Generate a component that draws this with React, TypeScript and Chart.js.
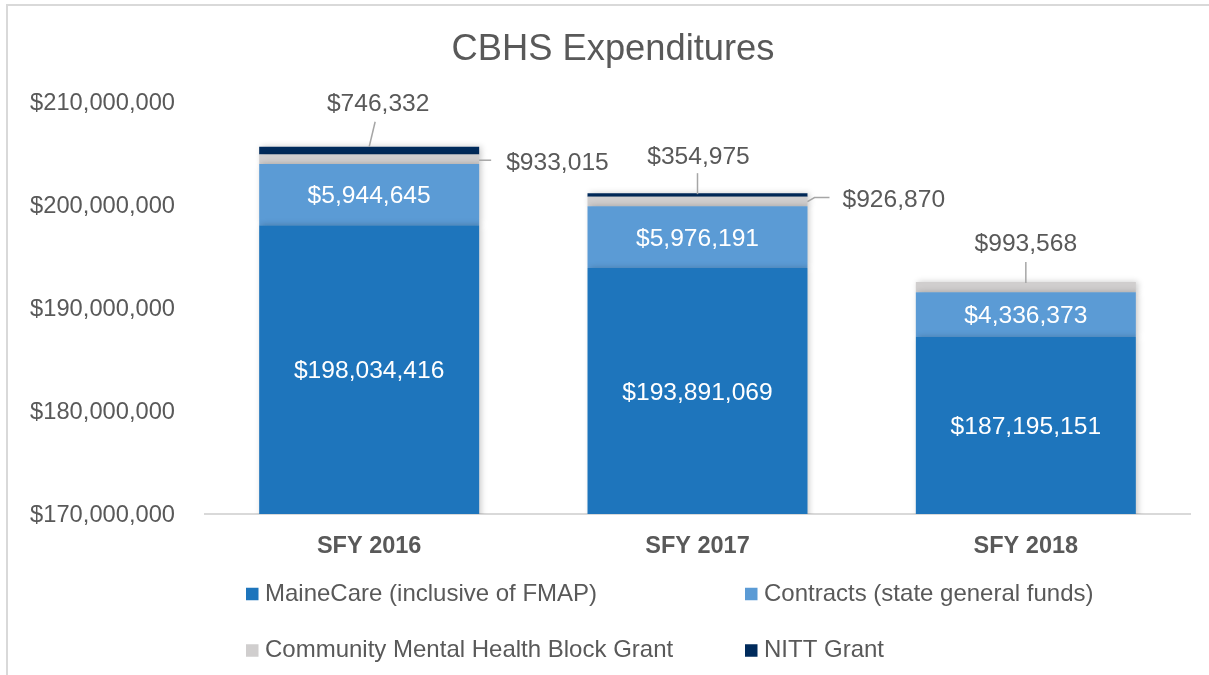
import React, { useEffect, useRef } from "react";
import { Chart, registerables } from "chart.js";

Chart.register(...registerables);

const categories = ["SFY 2016", "SFY 2017", "SFY 2018"];
const seriesNames = [
  "MaineCare (inclusive of FMAP)",
  "Contracts (state general funds)",
  "Community Mental Health Block Grant",
  "NITT Grant",
];
const maineCare = [198034416, 193891069, 187195151];
const contracts = [5944645, 5976191, 4336373];
const blockGrant = [933015, 926870, 993568];
const nittGrant: (number | null)[] = [746332, 354975, null];
const yMin = 170000000;
const yMax = 210000000;
const yStep = 10000000;
const titleText = "CBHS Expenditures";

const seriesColors = ["#1E75BC", "#5B9BD5", "#D0CECE", "#002B5C"];
const textColor = "#595959";
const fontFamily = "'Liberation Sans', Arial, sans-serif";
const CAP = 0.358; // half cap-height ratio, for centring caps on a y position

// callout styling for labels drawn outside their segments (dataset-index keys)
const callouts: Record<string, { anchor: string; line: number[][]; text: number[]; align: CanvasTextAlign }> = {
  "3-0": { anchor: "top", line: [[0, 0], [6, -25]], text: [9, -45], align: "center" },
  "2-0": { anchor: "right", line: [[0, 1], [12, 1]], text: [27, 2], align: "left" },
  "3-1": { anchor: "top", line: [[0, 1], [0, -20]], text: [1, -38], align: "center" },
  "2-1": { anchor: "right", line: [[0, 0], [7, -4], [22, -4]], text: [35, -3], align: "left" },
  "2-2": { anchor: "top", line: [[0, 1], [0, -20]], text: [0, -40], align: "center" },
};

const legendLayout = { cols: [246, 745], rows: [594, 650.5], box: 12.5, gap: 6.5, font: 24 };
const titleLayout = { x: 613, y: 47, font: 36.3 };
const labelFont = 24.6;

const fmt = (v: number) => "$" + Math.round(v).toLocaleString("en-US");

const titlePlugin = {
  id: "customTitle",
  afterDraw(chart: any) {
    const c = chart.ctx;
    c.save();
    c.font = `${titleLayout.font}px ${fontFamily}`;
    c.fillStyle = textColor;
    c.textAlign = "center";
    c.textBaseline = "alphabetic";
    c.fillText(titleText, titleLayout.x, titleLayout.y + CAP * titleLayout.font);
    c.restore();
  },
};

const shadowPlugin = {
  id: "barShadow",
  beforeDatasetsDraw(chart: any) {
    const c = chart.ctx;
    c.save();
    c.shadowColor = "rgba(0,0,0,0.22)";
    c.shadowBlur = 6;
    c.shadowOffsetX = 2;
    c.shadowOffsetY = 0;
  },
  afterDatasetsDraw(chart: any) {
    chart.ctx.restore();
  },
};

const labelPlugin = {
  id: "segmentLabels",
  afterDraw(chart: any) {
    const c = chart.ctx;
    const area = chart.chartArea;
    const off = CAP * labelFont;
    c.save();
    c.font = `${labelFont}px ${fontFamily}`;
    c.textBaseline = "alphabetic";
    chart.data.datasets.forEach((ds: any, di: number) => {
      const meta = chart.getDatasetMeta(di);
      meta.data.forEach((el: any, i: number) => {
        const v = ds.data[i];
        if (v === null || v === undefined) return;
        const { x, y, base, width } = el.getProps(["x", "y", "base", "width"], true);
        const co = callouts[`${di}-${i}`];
        if (!co) {
          const bottom = Math.min(base, area.bottom);
          c.fillStyle = "#FFFFFF";
          c.textAlign = "center";
          c.fillText(fmt(v), x, (y + bottom) / 2 + off);
          return;
        }
        let ax = x;
        let ay = y;
        if (co.anchor === "right") {
          ax = x + width / 2;
          ay = (y + base) / 2;
        }
        c.strokeStyle = "#A6A6A6";
        c.lineWidth = 1.5;
        c.beginPath();
        co.line.forEach((p, k) => {
          if (k === 0) c.moveTo(ax + p[0], ay + p[1]);
          else c.lineTo(ax + p[0], ay + p[1]);
        });
        c.stroke();
        c.fillStyle = textColor;
        c.textAlign = co.align;
        c.fillText(fmt(v), ax + co.text[0], ay + co.text[1] + off);
      });
    });
    c.restore();
  },
};

const legendPlugin = {
  id: "gridLegend",
  afterDraw(chart: any) {
    const c = chart.ctx;
    const L = legendLayout;
    c.save();
    c.font = `${L.font}px ${fontFamily}`;
    c.textBaseline = "alphabetic";
    c.textAlign = "left";
    chart.data.datasets.forEach((ds: any, di: number) => {
      const col = L.cols[di % 2];
      const row = L.rows[Math.floor(di / 2)];
      c.fillStyle = ds.backgroundColor;
      c.fillRect(col, row - L.box / 2, L.box, L.box);
      c.fillStyle = textColor;
      c.fillText(ds.label, col + L.box + L.gap, row - 2 + CAP * L.font);
    });
    c.restore();
  },
};

export default function App() {
  const ref = useRef<HTMLCanvasElement | null>(null);
  useEffect(() => {
    if (!ref.current) return;
    Chart.defaults.font.family = fontFamily;
    const seriesData = [maineCare, contracts, blockGrant, nittGrant];
    const chart = new Chart(ref.current, {
      type: "bar",
      data: {
        labels: categories,
        datasets: seriesData.map((d, k) => ({
          label: seriesNames[k],
          data: d as any,
          backgroundColor: seriesColors[k],
          borderWidth: 0,
          barPercentage: 0.67,
          categoryPercentage: 1,
        })),
      },
      options: {
        animation: false,
        responsive: true,
        maintainAspectRatio: false,
        layout: { padding: { top: 102, left: 0, right: 19, bottom: 0 } },
        plugins: {
          legend: { display: false },
          tooltip: { enabled: false },
          title: { display: false },
        },
        scales: {
          x: {
            stacked: true,
            grid: { display: false, drawTicks: false },
            border: { display: true, color: "#D9D9D9", width: 2 },
            ticks: {
              color: textColor,
              font: { size: 23.5, weight: "bold", family: fontFamily },
              padding: 18,
            },
            afterFit: (scale: any) => {
              scale.height = 161;
            },
          },
          y: {
            stacked: true,
            min: yMin,
            max: yMax,
            grid: { display: false, drawTicks: false },
            border: { display: false },
            ticks: {
              stepSize: yStep,
              color: textColor,
              font: { size: 23.7, family: fontFamily },
              padding: 30,
              labelOffset: 1.5,
              callback: (v: any) => fmt(Number(v)),
            },
            afterFit: (scale: any) => {
              scale.width = 205;
            },
          },
        },
      } as any,
      plugins: [shadowPlugin, labelPlugin, legendPlugin, titlePlugin],
    });
    return () => chart.destroy();
  }, []);

  return (
    <div
      style={{
        position: "fixed",
        left: 0,
        top: 0,
        width: 1209,
        height: 675,
        overflow: "hidden",
        background: "#FFFFFF",
      }}
    >
      <div
        style={{
          position: "absolute",
          left: 6,
          top: 4,
          width: 1400,
          height: 900,
          border: "2px solid #D9D9D9",
          boxSizing: "border-box",
        }}
      />
      <canvas ref={ref} style={{ position: "absolute", left: 0, top: 0, width: 1209, height: 675 }} />
    </div>
  );
}
